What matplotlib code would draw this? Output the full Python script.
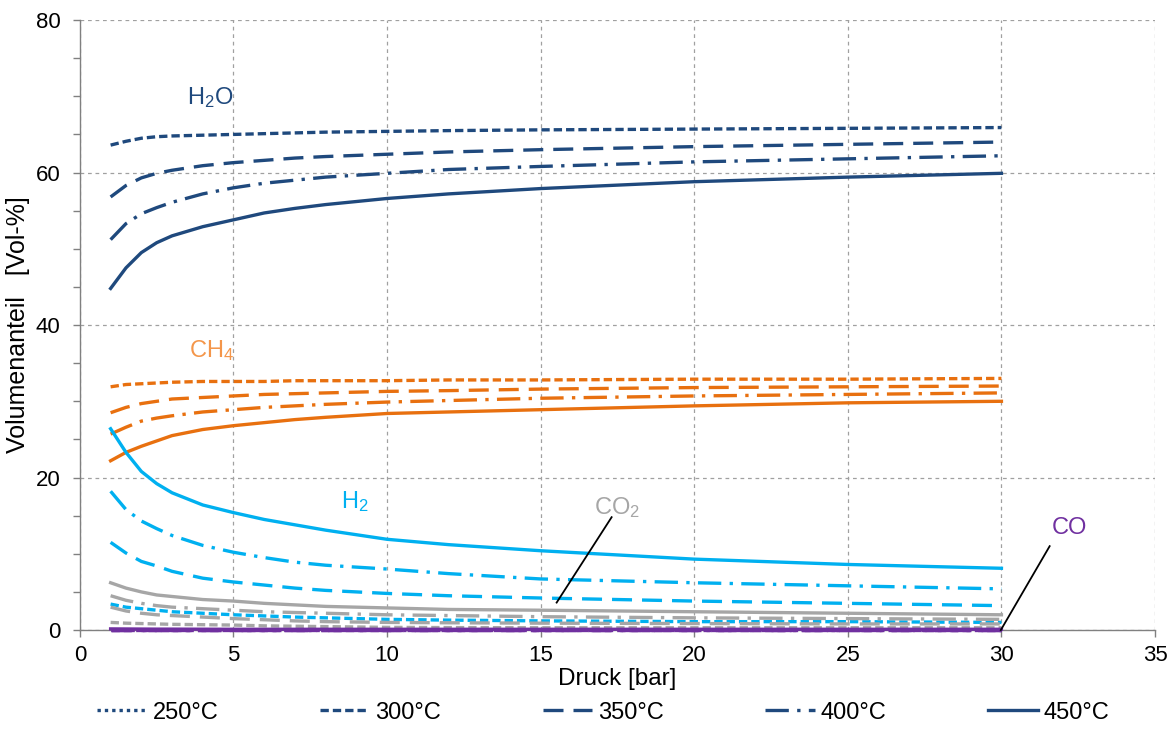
import matplotlib
matplotlib.use("Agg")
import matplotlib.pyplot as plt
from matplotlib.lines import Line2D
from matplotlib.ticker import MultipleLocator

plt.rcParams['font.family'] = ['Liberation Sans', 'DejaVu Sans']
plt.rcParams['mathtext.fontset'] = 'custom'
plt.rcParams['mathtext.rm'] = 'Liberation Sans'
plt.rcParams['mathtext.it'] = 'Liberation Sans'

# pressure points [bar]
druck = [1, 1.5, 2, 2.5, 3, 4, 5, 6, 7, 8, 10, 12, 15, 20, 25, 30]

temps = ["250°C", "300°C", "350°C", "400°C", "450°C"]

# H2O [Vol-%]
h2o_300 = [63.6, 64.1, 64.5, 64.7, 64.8, 64.9, 65.0, 65.1, 65.2, 65.3, 65.4, 65.5, 65.6, 65.7, 65.8, 65.9]
h2o_350 = [56.8, 58.3, 59.3, 59.9, 60.3, 60.9, 61.3, 61.6, 61.9, 62.1, 62.4, 62.7, 63.0, 63.4, 63.7, 64.0]
h2o_400 = [51.2, 53.3, 54.6, 55.4, 56.1, 57.2, 58.0, 58.6, 59.0, 59.4, 59.9, 60.4, 60.8, 61.4, 61.8, 62.2]
h2o_450 = [44.8, 47.5, 49.5, 50.8, 51.7, 52.9, 53.8, 54.7, 55.3, 55.8, 56.6, 57.2, 57.9, 58.8, 59.4, 59.9]

# CH4
ch4_300 = [31.9, 32.2, 32.3, 32.4, 32.5, 32.6, 32.6, 32.6, 32.7, 32.7, 32.7, 32.8, 32.8, 32.9, 32.9, 33.0]
ch4_350 = [28.5, 29.2, 29.7, 30.0, 30.3, 30.5, 30.7, 30.9, 31.0, 31.1, 31.3, 31.4, 31.6, 31.8, 31.9, 32.0]
ch4_400 = [25.7, 26.6, 27.4, 27.8, 28.1, 28.6, 28.9, 29.2, 29.4, 29.6, 29.9, 30.1, 30.4, 30.7, 30.9, 31.1]
ch4_450 = [22.2, 23.3, 24.1, 24.8, 25.5, 26.3, 26.8, 27.2, 27.6, 27.9, 28.4, 28.6, 28.9, 29.4, 29.8, 30.0]

# H2
h2_300 = [3.4, 3.0, 2.8, 2.6, 2.4, 2.2, 2.0, 1.85, 1.7, 1.6, 1.4, 1.3, 1.2, 1.1, 1.1, 1.0]
h2_350 = [11.5, 10.1, 9.0, 8.4, 7.7, 6.8, 6.3, 5.9, 5.5, 5.2, 4.8, 4.5, 4.2, 3.8, 3.5, 3.2]
h2_400 = [18.2, 15.8, 14.3, 13.3, 12.4, 11.1, 10.2, 9.5, 8.9, 8.5, 8.0, 7.4, 6.7, 6.2, 5.8, 5.4]
h2_450 = [26.4, 23.3, 20.8, 19.2, 18.0, 16.4, 15.4, 14.5, 13.8, 13.1, 11.9, 11.2, 10.4, 9.3, 8.6, 8.1]

# CO2
co2_300 = [1.0, 0.9, 0.85, 0.8, 0.75, 0.7, 0.65, 0.55, 0.5, 0.45, 0.35, 0.32, 0.3, 0.3, 0.3, 0.3]
co2_350 = [3.0, 2.5, 2.2, 2.0, 1.9, 1.7, 1.5, 1.35, 1.2, 1.1, 1.0, 0.95, 0.9, 0.85, 0.8, 0.8]
co2_400 = [4.5, 3.9, 3.5, 3.2, 3.0, 2.8, 2.6, 2.4, 2.3, 2.2, 2.0, 1.9, 1.75, 1.6, 1.5, 1.4]
co2_450 = [6.2, 5.5, 5.0, 4.6, 4.4, 4.0, 3.8, 3.5, 3.3, 3.1, 2.9, 2.7, 2.6, 2.4, 2.2, 2.0]

# CO
co_300 = [0.0] * 16
co_350 = [0.0] * 16
co_400 = [0.05] * 16
co_450 = [0.15, 0.14, 0.13, 0.12, 0.12, 0.11, 0.1, 0.1, 0.1, 0.1, 0.1, 0.1, 0.1, 0.1, 0.1, 0.1]

c_h2o = "#1F497D"
c_ch4 = "#E8700F"
c_h2 = "#00B0F0"
c_co2 = "#A6A6A6"
c_co = "#7030A0"

styles = {
    "250°C": (0, (1, 1.2)),
    "300°C": (0, (2.5, 1.2)),
    "350°C": (0, (6, 3)),
    "400°C": (0, (7, 2.5, 1, 2.5)),
    "450°C": "-",
}

lw = 2.4

fig = plt.figure(figsize=(11.75, 7.4), dpi=100)
ax = fig.add_axes([0.068, 0.1486, 0.915, 0.8243])

series = [
    (c_h2o, [h2o_300, h2o_350, h2o_400, h2o_450]),
    (c_ch4, [ch4_300, ch4_350, ch4_400, ch4_450]),
    (c_h2, [h2_300, h2_350, h2_400, h2_450]),
    (c_co2, [co2_300, co2_350, co2_400, co2_450]),
    (c_co, [co_300, co_350, co_400, co_450]),
]

for color, vals in series:
    for t, v in zip(temps[1:], vals):
        ax.plot(druck, v, color=color, lw=lw, linestyle=styles[t],
                dash_capstyle='butt', clip_on=False, zorder=3)

ax.set_xlim(0, 35)
ax.set_ylim(0, 80)
ax.set_xticks(range(0, 36, 5))
ax.set_yticks(range(0, 81, 20))
ax.yaxis.set_minor_locator(MultipleLocator(5))
ax.grid(True, which='major', color="#A0A0A0", linestyle=(0, (3, 3)), linewidth=0.9)
ax.set_axisbelow(True)
for s in ["top", "right"]:
    ax.spines[s].set_visible(False)
for s in ["left", "bottom"]:
    ax.spines[s].set_color("#808080")
    ax.spines[s].set_linewidth(1.0)
ax.tick_params(axis='both', which='both', colors="#808080", labelcolor="black",
               labelsize=16, length=5, width=1.0)
ax.tick_params(axis='y', which='major', pad=9)
ax.tick_params(axis='x', which='major', pad=6)

ax.set_xlabel("Druck [bar]", fontsize=17.5, labelpad=1)
ax.set_ylabel("Volumenanteil   [Vol-%]", fontsize=18, labelpad=4)

# species labels
ax.text(4.25, 69.9, "H$_2$O", color=c_h2o, fontsize=17, ha='center', va='center')
ax.text(4.3, 36.7, "CH$_4$", color="#F4964A", fontsize=17, ha='center', va='center')
ax.text(8.95, 16.8, "H$_2$", color=c_h2, fontsize=17, ha='center', va='center')
ax.text(17.5, 16.0, "CO$_2$", color=c_co2, fontsize=17, ha='center', va='center')
ax.text(32.2, 13.4, "CO", color=c_co, fontsize=17, ha='center', va='center')
ax.plot([15.52, 17.31], [3.6, 14.8], color="black", lw=1.3, zorder=4)
ax.plot([29.98, 31.57], [0.0, 11.0], color="black", lw=1.3, clip_on=False, zorder=4)

handles = [Line2D([], [], color=c_h2o, lw=lw, linestyle=styles[t]) for t in temps]
fig.legend(handles, temps, loc='lower left', bbox_to_anchor=(0.0826, 0.022),
           ncol=5, frameon=False, fontsize=17, handlelength=2.1,
           handletextpad=0.25, columnspacing=4.3, borderpad=0, borderaxespad=0)

fig.savefig("out.png", dpi=100)
